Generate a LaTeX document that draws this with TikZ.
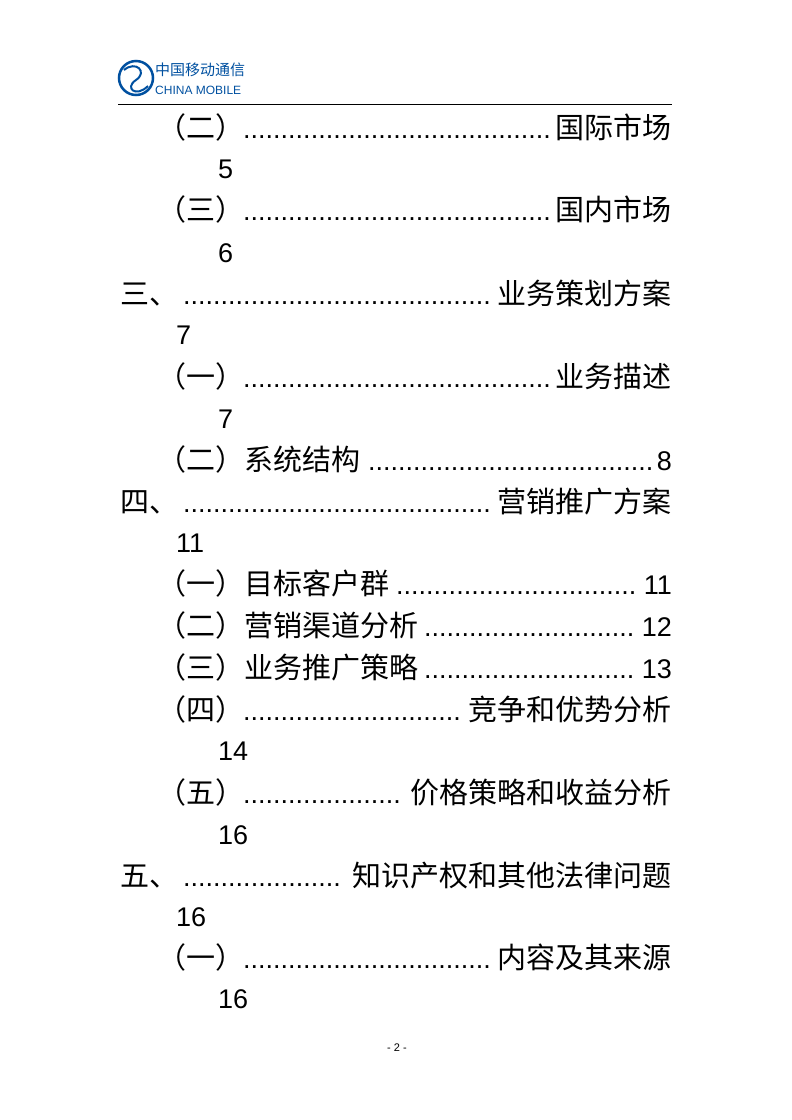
\documentclass[tikz,border=0pt]{standalone}
\usepackage{fontspec}
\setmainfont{Liberation Sans}
\newfontfamily\cjkf{Noto Sans CJK SC}
\newcommand{\cjk}{\cjkf\fontsize{29}{30}\selectfont}
\begin{document}
\begin{tikzpicture}[x=1pt,y=-1pt,
  txt/.style={inner sep=0pt,font=\fontsize{27}{30}\selectfont},
  lft/.style={txt,anchor=base west},
  rgt/.style={txt,anchor=base east}]
\useasboundingbox (0,0) rectangle (792,1120);
\definecolor{cmblue}{RGB}{0,80,160}
% logo
\node[circle,draw=cmblue,line width=2.5pt,minimum size=34pt,inner sep=0pt] (logo) at (136,78) {};
\draw[cmblue,line width=2pt] (124,70) .. controls (136,60) and (148,72) .. (136,80) .. controls (124,88) and (136,98) .. (148,86);
\node[anchor=west,inner sep=0pt,text=cmblue,font=\cjkf\fontsize{15}{15}\selectfont] (lt1) at (155,70) {中国移动通信};
\node[anchor=west,inner sep=0pt,text=cmblue,font=\fontsize{12}{12}\selectfont] (lt2) at (155,90) {CHINA MOBILE};
\coordinate (hl) at (118,104); \coordinate (hr) at (672,104);
\draw[line width=0.6pt] (hl) -- (hr);
\newcommand{\dts}[3]{\node[lft] at (#1,#3) {\makebox[\dimexpr #2pt-#1pt\relax]{\leaders\hbox to 7.5pt{\hss.\hss}\hfill}};}
\node[lft] (a1) at (157,138) {\cjk （二）}; \dts{243}{553}{138} \node[rgt] (b1) at (672,138) {\cjk 国际市场};
\node[lft] (c1) at (218,178) {5};
\node[lft] (a2) at (157,220) {\cjk （三）}; \dts{243}{553}{220} \node[rgt] (b2) at (672,220) {\cjk 国内市场};
\node[lft] (c2) at (218,262) {6};
\node[lft] (a3) at (120,304) {\cjk 三、}; \dts{183}{493}{304} \node[rgt] (b3) at (672,304) {\cjk 业务策划方案};
\node[lft] (c3) at (176,344) {7};
\node[lft] (a4) at (157,387) {\cjk （一）}; \dts{243}{553}{387} \node[rgt] (b4) at (672,387) {\cjk 业务描述};
\node[lft] (c4) at (218,428) {7};
\node[lft] (a5) at (157,470) {\cjk （二）系统结构}; \dts{368}{655}{470} \node[rgt] (b5) at (672,470) {8};
\node[lft] (a6) at (120,512) {\cjk 四、}; \dts{183}{493}{512} \node[rgt] (b6) at (672,512) {\cjk 营销推广方案};
\node[lft] (c6) at (176,552) {11};
\node[lft] (a7) at (157,594) {\cjk （一）目标客户群}; \dts{396}{641}{594} \node[rgt] (b7) at (672,594) {11};
\node[lft] (a8) at (157,636) {\cjk （二）营销渠道分析}; \dts{424}{641}{636} \node[rgt] (b8) at (672,636) {12};
\node[lft] (a9) at (157,678) {\cjk （三）业务推广策略}; \dts{424}{641}{678} \node[rgt] (b9) at (672,678) {13};
\node[lft] (a10) at (157,720) {\cjk （四）}; \dts{243}{463}{720} \node[rgt] (b10) at (672,720) {\cjk 竞争和优势分析};
\node[lft] (c10) at (218,760) {14};
\node[lft] (a11) at (157,803) {\cjk （五）}; \dts{243}{405}{803} \node[rgt] (b11) at (672,803) {\cjk 价格策略和收益分析};
\node[lft] (c11) at (218,844) {16};
\node[lft] (a12) at (120,886) {\cjk 五、}; \dts{183}{347}{886} \node[rgt] (b12) at (672,886) {\cjk 知识产权和其他法律问题};
\node[lft] (c12) at (176,926) {16};
\node[lft] (a13) at (157,968) {\cjk （一）}; \dts{243}{492}{968} \node[rgt] (b13) at (672,968) {\cjk 内容及其来源};
\node[lft] (c13) at (218,1008) {16};
\node[inner sep=0pt,font=\fontsize{11}{12}\selectfont] (foot) at (397,1048) {- 2 -};
\end{tikzpicture}
\end{document}
